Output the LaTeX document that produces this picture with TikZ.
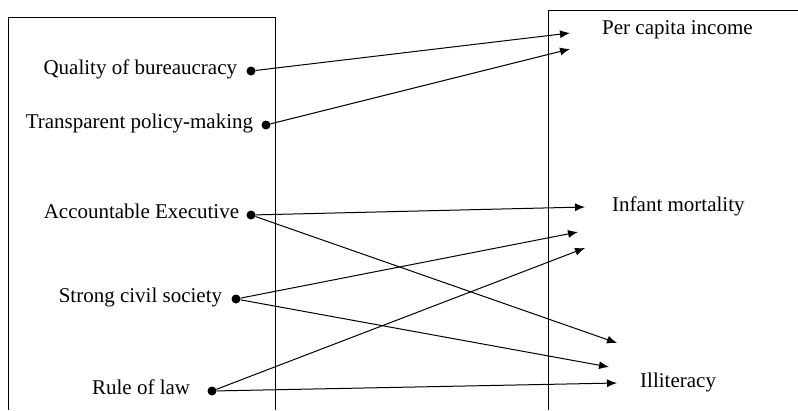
\documentclass[tikz,border=0pt]{standalone}
\usepackage{fontspec}
\setmainfont{Liberation Serif}
\usetikzlibrary{arrows.meta,positioning}

\tikzset{
  dot/.style={circle,fill,inner sep=0pt,minimum size=9pt},
  lbl/.style={font=\fontsize{21}{24}\selectfont,inner sep=0pt},
  link/.style={line width=1pt,-{Latex[length=10pt,width=8pt]}},
  frame/.style={line width=1pt}
}

\begin{document}
\begin{tikzpicture}[x=1pt,y=-1pt]
  \useasboundingbox (0,0) rectangle (798,410);
  % the two boxes, open at the bottom
  \draw[frame] (8,410) -- (8,17) -- (275,17) -- (275,410);
  \draw[frame] (548,410) -- (548,10) -- (798,10);

  % governance side
  \node[dot] (qual) at (251,71) {};
  \node[dot] (transp) at (266,125) {};
  \node[dot] (account) at (251,215) {};
  \node[dot] (civil) at (236,299) {};
  \node[dot] (law) at (212,391) {};
  \node[lbl,anchor=base east] (qualtxt) at ([xshift=-9pt,yshift=-3pt]qual.west) {Quality of bureaucracy};
  \node[lbl,anchor=base east] (transptxt) at ([xshift=-8pt,yshift=-3pt]transp.west) {Transparent policy-making};
  \node[lbl,anchor=base east] (accounttxt) at ([xshift=-7pt,yshift=-3pt]account.west) {Accountable Executive};
  \node[lbl,anchor=base east] (civiltxt) at ([xshift=-9pt,yshift=-3pt]civil.west) {Strong civil society};
  \node[lbl,anchor=base east] (lawtxt) at ([xshift=-17pt,yshift=-3pt]law.west) {Rule of law};

  % outcome side
  \node[lbl,anchor=base west] (income) at (602,34) {Per capita income};
  \node[lbl,anchor=base west] (infant) at (612,211) {Infant mortality};
  \node[lbl,anchor=base west] (illit) at (640,387) {Illiteracy};
  \coordinate (inc1) at (570,33);
  \coordinate (inc2) at (570,49);
  \coordinate (inf1) at (585,207);
  \coordinate (inf2) at (578,232);
  \coordinate (inf3) at (585,248);
  \coordinate (ill1) at (617,343);
  \coordinate (ill2) at (609,367);
  \coordinate (ill3) at (617,383);

  % links
  \draw[link] (qual) -- (inc1);
  \draw[link] (transp) -- (inc2);
  \draw[link] (account) -- (inf1);
  \draw[link] (account) -- (ill1);
  \draw[link] (civil) -- (inf2);
  \draw[link] (civil) -- (ill2);
  \draw[link] (law) -- (inf3);
  \draw[link] (law) -- (ill3);
\end{tikzpicture}
\end{document}
